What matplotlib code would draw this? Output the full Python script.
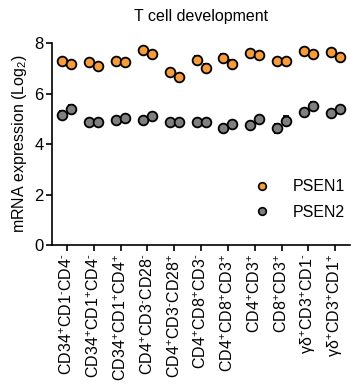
import matplotlib
matplotlib.use("Agg")
import matplotlib.pyplot as plt
import numpy as np

plt.rcParams['font.family'] = ['Liberation Sans', 'DejaVu Sans']
plt.rcParams['mathtext.fontset'] = 'custom'
plt.rcParams['mathtext.rm'] = 'Liberation Sans'
plt.rcParams['mathtext.it'] = 'Liberation Sans:italic'

categories = [
    r"CD34$^{+}$CD1$^{‐}$CD4$^{‐}$",
    r"CD34$^{+}$CD1$^{+}$CD4$^{‐}$",
    r"CD34$^{+}$CD1$^{+}$CD4$^{+}$",
    r"CD4$^{+}$CD3$^{‐}$CD28$^{‐}$",
    r"CD4$^{+}$CD3$^{‐}$CD28$^{+}$",
    r"CD4$^{+}$CD8$^{+}$CD3$^{‐}$",
    r"CD4$^{+}$CD8$^{+}$CD3$^{+}$",
    r"CD4$^{+}$CD3$^{+}$",
    r"CD8$^{+}$CD3$^{+}$",
    r"γδ$^{+}$CD3$^{+}$CD1$^{‐}$",
    r"γδ$^{+}$CD3$^{+}$CD1$^{+}$",
]

psen1_a = [7.29, 7.24, 7.28, 7.72, 6.86, 7.33, 7.43, 7.62, 7.31, 7.68, 7.66]
psen1_b = [7.17, 7.09, 7.25, 7.58, 6.67, 7.02, 7.18, 7.55, 7.31, 7.56, 7.46]
psen1_a_err = [0.04, 0.04, 0.03, 0.06, 0.10, 0.15, 0.15, 0.04, 0.03, 0.04, 0.05]
psen1_b_err = [0.04, 0.04, 0.03, 0.06, 0.10, 0.15, 0.15, 0.04, 0.03, 0.04, 0.12]

psen2_a = [5.15, 4.87, 4.94, 4.94, 4.86, 4.87, 4.65, 4.75, 4.62, 5.26, 5.22]
psen2_b = [5.41, 4.87, 5.02, 5.12, 4.86, 4.87, 4.79, 4.99, 4.92, 5.53, 5.41]
psen2_a_err = [0.15, 0.03, 0.05, 0.10, 0.03, 0.03, 0.10, 0.12, 0.18, 0.12, 0.10]
psen2_b_err = [0.15, 0.03, 0.05, 0.10, 0.03, 0.03, 0.10, 0.12, 0.18, 0.12, 0.10]

orange = "#F89B3A"
gray = "#7F7F7F"

fig = plt.figure(figsize=(3.54, 3.89), dpi=100)
ax = fig.add_axes([0.147, 0.370, 0.842, 0.519])

x = np.arange(len(categories))
off = 0.17
mk = dict(marker='o', markersize=7, markeredgecolor='black', markeredgewidth=1.3,
          linestyle='none', ecolor='black', elinewidth=1.1, capsize=2.5, capthick=1.1)

for xs, ys, es in [(x - off, psen1_a, psen1_a_err), (x + off, psen1_b, psen1_b_err)]:
    ax.errorbar(xs, ys, yerr=es, color=orange, zorder=3, **mk)
for xs, ys, es in [(x - off, psen2_a, psen2_a_err), (x + off, psen2_b, psen2_b_err)]:
    ax.errorbar(xs, ys, yerr=es, color=gray, zorder=3, **mk)

h1, = ax.plot([], [], 'o', color=orange, markeredgecolor='black', markeredgewidth=1.2, markersize=5.5, label='PSEN1')
h2, = ax.plot([], [], 'o', color=gray, markeredgecolor='black', markeredgewidth=1.2, markersize=5.5, label='PSEN2')
ax.legend(handles=[h1, h2], loc='lower right', bbox_to_anchor=(1.03, 0.055), frameon=False,
          fontsize=11.5, handletextpad=0.9, labelspacing=0.65)

ax.set_xlim(-0.55, 10.55)
ax.set_ylim(0, 8)
ax.set_yticks([0, 2, 4, 6, 8])
ax.set_xticks(x)
ax.set_xticklabels(categories, rotation=90, fontsize=11.5)
ax.tick_params(axis='y', labelsize=12, width=1.2, length=4, pad=2)
ax.tick_params(axis='x', width=1.2, length=4, pad=2)
for s in ['top', 'right']:
    ax.spines[s].set_visible(False)
for s in ['left', 'bottom']:
    ax.spines[s].set_linewidth(1.2)

ax.set_ylabel(r"mRNA expression (Log$_2$)", fontsize=11.5, labelpad=4)
ax.set_title("T cell development", fontsize=11.5, pad=16)

fig.savefig("out.png", dpi=100)
